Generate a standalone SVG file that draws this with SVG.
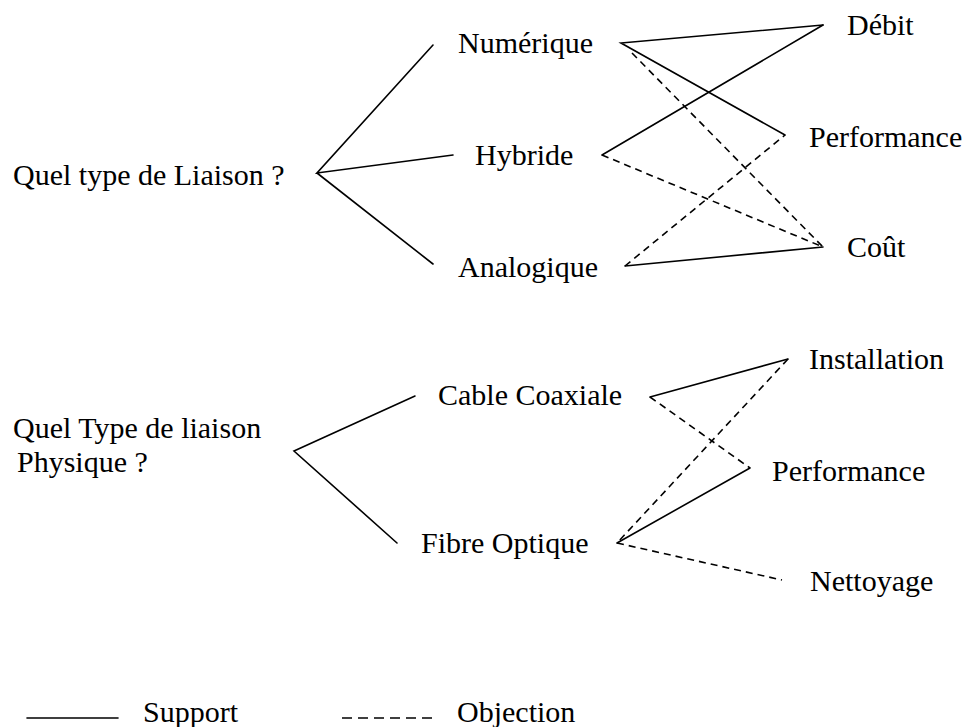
<svg xmlns="http://www.w3.org/2000/svg" width="967" height="727" viewBox="0 0 967 727">
<style>
text{font-family:"Liberation Serif","Times New Roman",serif;font-size:30px;fill:#000}
.s{stroke:#000;stroke-width:1.6;fill:none;stroke-linecap:round}
.d{stroke:#000;stroke-width:1.6;fill:none;stroke-dasharray:7 5}
</style>
<rect width="967" height="727" fill="#fff"/>
<g id="q1"><text x="13" y="185">Quel type de Liaison ?</text></g>
<g id="numerique"><text x="458" y="53">Numérique</text></g>
<g id="hybride"><text x="475" y="165">Hybride</text></g>
<g id="analogique"><text x="458" y="277">Analogique</text></g>
<g id="debit"><text x="847" y="35">Débit</text></g>
<g id="performance1"><text x="809" y="147">Performance</text></g>
<g id="cout"><text x="847" y="257">Coût</text></g>
<g id="q2"><text x="13" y="438">Quel Type de liaison</text><text x="17" y="472">Physique ?</text></g>
<g id="cable"><text x="438" y="405">Cable Coaxiale</text></g>
<g id="fibre"><text x="421" y="553">Fibre Optique</text></g>
<g id="installation"><text x="809" y="369">Installation</text></g>
<g id="performance2"><text x="772" y="481">Performance</text></g>
<g id="nettoyage"><text x="810" y="591">Nettoyage</text></g>
<g id="connectors">
<path class="s" d="M433 45 L317 173 L453 155 M317 173 L433 264"/>
<path class="s" d="M823 25 L621 43 L785 135"/>
<path class="s" d="M823 25 L602 155"/>
<path class="s" d="M625 266 L823 247"/>
<path class="d" d="M632 53 L823 247"/>
<path class="d" d="M602 155 L823 247"/>
<path class="d" d="M625 266 L785 135"/>
<path class="s" d="M415 396 L294 451 L397 543"/>
<path class="s" d="M788 359 L650 397"/>
<path class="d" d="M650 397 L750 468"/>
<path class="d" d="M788 359 L617 543"/>
<path class="s" d="M750 468 L617 543"/>
<path class="d" d="M617 543 L782 580"/>
</g>
<g id="legend">
<line class="s" x1="27" y1="718" x2="118" y2="718"/>
<text x="143" y="722">Support</text>
<line class="d" x1="342" y1="718" x2="433" y2="718" style="stroke-dasharray:10 6"/>
<text x="457" y="722">Objection</text>
</g>
</svg>
